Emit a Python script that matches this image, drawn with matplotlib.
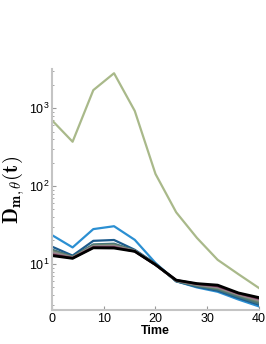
import numpy as np
import matplotlib
matplotlib.use('Agg')
import matplotlib.pyplot as plt

# time points
t = [0, 4, 8, 12, 16, 20, 24, 28, 32, 36, 40]

# outlier curve (olive)
d_top = [700, 370, 1700, 2800, 920, 143, 46, 21.6, 11.3, 7.4, 4.9]

# bundle of curves, light blue -> black
d_lines = [
    [23.5, 16.3, 28.0, 30.5, 20.4, 10.3, 6.0, 5.0, 4.4, 3.5, 2.85],
    [16.7, 12.8, 19.8, 20.3, 15.2, 10.1, 6.0, 5.1, 4.55, 3.65, 3.0],
    [15.3, 12.4, 17.8, 18.2, 14.9, 10.0, 6.0, 5.2, 4.7, 3.8, 3.1],
    [15.0, 12.3, 17.5, 17.9, 14.8, 9.9, 6.05, 5.3, 4.8, 3.9, 3.2],
    [14.6, 12.2, 17.2, 17.5, 14.7, 9.8, 6.1, 5.35, 4.9, 4.0, 3.3],
    [14.2, 12.1, 16.9, 17.1, 14.7, 9.8, 6.1, 5.4, 5.0, 4.05, 3.4],
    [13.6, 12.0, 16.6, 16.7, 14.6, 9.75, 6.15, 5.5, 5.1, 4.1, 3.5],
    [13.2, 11.9, 16.3, 16.4, 14.5, 9.75, 6.2, 5.55, 5.2, 4.2, 3.6],
    [12.8, 11.8, 16.1, 16.0, 14.5, 9.8, 6.2, 5.6, 5.35, 4.25, 3.7],
]
colors = ['#2b8fd2', '#1c5a8c', '#3f7480', '#4f7676', '#6f876a',
          '#8c8c8c', '#9a7a8a', '#6a2a4a', '#000000']

plt.rcParams['font.family'] = ['Liberation Sans', 'DejaVu Sans']
plt.rcParams['mathtext.fontset'] = 'cm'

fig = plt.figure(figsize=(2.66, 3.44), dpi=100)
ax = fig.add_axes([0.195, 0.099, 0.779, 0.70])

ax.plot(t, d_top, color='#a9b98a', lw=1.6)
for i, d in enumerate(d_lines):
    ax.plot(t, d, color=colors[i], lw=1.6 if i < len(d_lines) - 1 else 2.0)

ax.set_yscale('log')
ax.set_xlim(0, 40)
ax.set_ylim(2.57, 3160)
ax.set_xticks([0, 10, 20, 30, 40])

for s in ['top', 'right']:
    ax.spines[s].set_visible(False)
for s in ['left', 'bottom']:
    ax.spines[s].set_color('#c4c4c4')
    ax.spines[s].set_linewidth(1.5)
ax.tick_params(which='both', direction='in', color='#999999', labelsize=9, pad=2)
ax.tick_params(which='major', length=3)
ax.tick_params(which='minor', length=1.5)
ax.tick_params(axis='x', which='minor', length=0)

ax.set_xlabel('Time', fontsize=9, fontweight='bold', labelpad=0)
ax.set_ylabel(r'$\mathbf{D_{m,\theta}(t)}$', fontsize=15, labelpad=1)

plt.savefig('out.png', dpi=100)
